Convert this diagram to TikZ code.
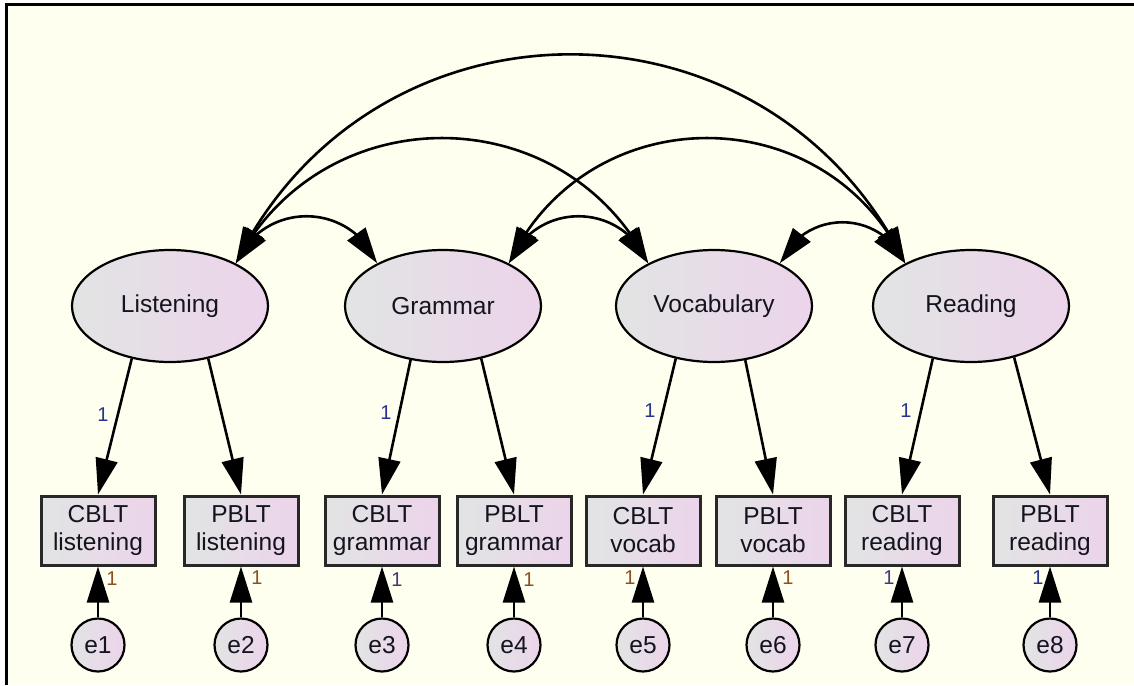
\documentclass[tikz,border=0pt]{standalone}
\usepackage{fontspec}
\setmainfont{Liberation Sans}
\usetikzlibrary{arrows.meta,shapes.geometric,bending}
\definecolor{bg}{RGB}{255,255,240}
\definecolor{fillA}{RGB}{226,228,228}
\definecolor{fillB}{RGB}{236,212,234}
\definecolor{txt}{RGB}{20,20,30}
\definecolor{bordergray}{RGB}{40,40,40}
\definecolor{onenavy}{RGB}{40,50,140}
\definecolor{onebrown}{RGB}{140,80,30}
\definecolor{onepurple}{RGB}{80,50,120}
\begin{document}
\begin{tikzpicture}[x=1pt,y=-1pt,
  latent/.style={ellipse, draw=black, line width=2.2pt, minimum width=196pt, minimum height=112pt,
    inner sep=0pt, left color=fillA, right color=fillB, text=txt, font=\fontsize{24.5}{28}\selectfont},
  obs/.style={rectangle, draw=bordergray, line width=3pt, minimum width=114pt, minimum height=69pt,
    inner sep=0pt, align=center, left color=fillA, right color=fillB, text=txt, font=\fontsize{24.5}{28}\selectfont},
  errc/.style={circle, draw=black, line width=2.2pt, minimum size=53pt, inner sep=0pt,
    left color=fillA, right color=fillB, text=txt, font=\fontsize{24.5}{28}\selectfont},
  onelab/.style={inner sep=0pt, font=\fontsize{20}{22}\selectfont},
  tip/.tip={Triangle[length=36pt 0 0,width=22pt 0 0]},
  arr/.style={line width=2.6pt, -tip},
  cov/.style={line width=2.6pt, {tip[flex]}-{tip[flex]}}
]
\useasboundingbox (0,0) rectangle (1134,685);
\fill[white] (0,0) rectangle (1134,685);
\fill[bg] (6,5) rectangle (1134,685);
\draw[line width=3pt] (6,685) -- (6,5) -- (1134,5);

% latent variables
\node[latent] (L) at (170,306) {Listening};
\node[latent] (G) at (443,306) {Grammar};
\node[latent] (V) at (714,306) {Vocabulary};
\node[latent] (R) at (971,306) {Reading};

% observed variables
\node[obs] (c1) at (98,530.5) {CBLT\\listening};
\node[obs] (p1) at (241,530.5) {PBLT\\listening};
\node[obs] (c2) at (382,530.5) {CBLT\\grammar};
\node[obs] (p2) at (514,530.5) {PBLT\\grammar};
\node[obs] (c3) at (643,530.5) {CBLT\\vocab};
\node[obs] (p3) at (773,530.5) {PBLT\\vocab};
\node[obs] (c4) at (902,530.5) {CBLT\\reading};
\node[obs] (p4) at (1050,530.5) {PBLT\\reading};

% error terms
\node[errc] (e1) at (98,645) {e1};
\node[errc] (e2) at (241,645) {e2};
\node[errc] (e3) at (382,645) {e3};
\node[errc] (e4) at (514,645) {e4};
\node[errc] (e5) at (643,645) {e5};
\node[errc] (e6) at (773,645) {e6};
\node[errc] (e7) at (902,645) {e7};
\node[errc] (e8) at (1050,645) {e8};

% loadings
\draw[arr] (L.-126) -- (c1.north);
\draw[arr] (L.-54) -- (p1.north);
\draw[arr] (G.-121) -- (c2.north);
\draw[arr] (G.-54) -- (p2.north);
\draw[arr] (V.-126) -- (c3.north);
\draw[arr] (V.-60) -- (p3.north);
\draw[arr] (R.-126) -- (c4.north);
\draw[arr] (R.-50) -- (p4.north);

% error paths
\draw[arr] (e1.north) -- (c1.south);
\draw[arr] (e2.north) -- (p1.south);
\draw[arr] (e3.north) -- (c2.south);
\draw[arr] (e4.north) -- (p2.south);
\draw[arr] (e5.north) -- (c3.south);
\draw[arr] (e6.north) -- (p3.south);
\draw[arr] (e7.north) -- (c4.south);
\draw[arr] (e8.north) -- (p4.south);

% covariances
\draw[cov] (L.33) .. controls +(27.3,-62.7) and +(-27.3,-62.7) .. (G.147);
\draw[cov] (G.33) .. controls +(26.4,-62.7) and +(-26.4,-62.7) .. (V.147);
\draw[cov] (V.33) .. controls +(24.9,-54.7) and +(-24.9,-54.7) .. (R.147);
\draw[cov] (L.33) .. controls +(86.3,-167) and +(-86.3,-167) .. (V.147);
\draw[cov] (G.33) .. controls +(78.9,-167) and +(-78.9,-167) .. (R.147);
\draw[cov] (L.33) .. controls +(137.1,-278.6) and +(-137.1,-278.6) .. (R.147);

% loading labels
\node[onelab, text=onenavy] (w1) at (103,415) {1};
\node[onelab, text=onenavy] (w2) at (386,413) {1};
\node[onelab, text=onenavy] (w3) at (650,411) {1};
\node[onelab, text=onenavy] (w4) at (906,411) {1};

% error labels
\node[onelab, text=onebrown] (r1) at (112,579) {1};
\node[onelab, text=onebrown] (r2) at (257,578) {1};
\node[onelab, text=onepurple] (r3) at (397,580) {1};
\node[onelab, text=onebrown] (r4) at (529,580) {1};
\node[onelab, text=onebrown] (r5) at (630,578) {1};
\node[onelab, text=onebrown] (r6) at (788,578) {1};
\node[onelab, text=onepurple] (r7) at (889,578) {1};
\node[onelab, text=onenavy] (r8) at (1038,578) {1};
\end{tikzpicture}
\end{document}
